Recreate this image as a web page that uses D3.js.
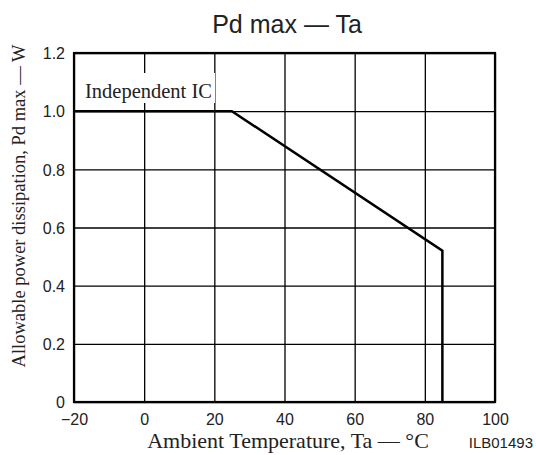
<!DOCTYPE html>
<html lang="en">

<head>
    <meta charset="UTF-8">
    <title>Pd max - Ta</title>
    <script src="https://d3js.org/d3.v7.min.js"></script>
    <style>
        body {
            margin: 0;
            background: #fff;
        }

        .tick text {
            font-family: "Liberation Sans", Arial, sans-serif;
            font-size: 16px;
            fill: #222;
        }

        .grid line {
            stroke: #000;
            stroke-width: 1.3px;
        }

        .grid .domain {
            display: none;
        }
    </style>
</head>

<body>
    <svg width="536" height="455" id="svg1"></svg>
</body>
<script>
    // chart data
    var xTicks = [-20, 0, 20, 40, 60, 80, 100];
    var yTicks = [0, 0.2, 0.4, 0.6, 0.8, 1.0, 1.2];
    var curveTa = [-20, 25, 85, 85];
    var curvePd = [1.0, 1.0, 0.52, 0];

    var svg = d3.select("#svg1"),
        plotLeft = 74,
        plotRight = 495,
        plotTop = 53,
        plotBottom = 402;

    var xScale = d3.scaleLinear().domain([-20, 100]).range([plotLeft, plotRight]),
        yScale = d3.scaleLinear().domain([0, 1.2]).range([plotBottom, plotTop]);

    // vertical grid + x labels
    var xGrid = svg.append("g")
        .attr("class", "grid")
        .attr("transform", "translate(0," + plotBottom + ")")
        .call(d3.axisBottom(xScale)
            .tickValues(xTicks)
            .tickSize(-(plotBottom - plotTop))
            .tickFormat(function (d) {
                return d < 0 ? "\u2212" + Math.abs(d) : d;
            }));
    xGrid.selectAll(".tick text").attr("y", 23).attr("dy", null);

    // horizontal grid + y labels
    var yGrid = svg.append("g")
        .attr("class", "grid")
        .attr("transform", "translate(" + plotLeft + ",0)")
        .call(d3.axisLeft(yScale)
            .tickValues(yTicks)
            .tickSize(-(plotRight - plotLeft))
            .tickFormat(function (d) {
                return d === 0 ? "0" : d3.format(".1f")(d);
            }));
    yGrid.selectAll(".tick text").attr("x", -9).attr("dy", "0.36em");

    // label with white backing
    svg.append("rect")
        .attr("x", 83)
        .attr("y", 73)
        .attr("width", 132)
        .attr("height", 30)
        .attr("fill", "#fff");

    svg.append("text")
        .attr("x", 85)
        .attr("y", 98)
        .attr("font-family", "Liberation Serif, Times New Roman, serif")
        .attr("font-size", "20.5px")
        .attr("fill", "#222")
        .text("Independent IC");

    // frame
    svg.append("rect")
        .attr("x", plotLeft)
        .attr("y", plotTop)
        .attr("width", plotRight - plotLeft)
        .attr("height", plotBottom - plotTop)
        .attr("fill", "none")
        .attr("stroke", "#000")
        .attr("stroke-width", 2.2);

    // derating curve
    var line = d3.line()
        .x(function (d, i) { return xScale(curveTa[i]); })
        .y(function (d, i) { return yScale(curvePd[i]); });

    svg.append("path")
        .datum(curveTa)
        .attr("d", line)
        .attr("fill", "none")
        .attr("stroke", "#000")
        .attr("stroke-width", 2.5)
        .attr("stroke-linejoin", "miter");

    // titles
    svg.append("text")
        .attr("x", 287)
        .attr("y", 33)
        .attr("text-anchor", "middle")
        .attr("font-family", "Liberation Sans, Arial, sans-serif")
        .attr("font-size", "25px")
        .attr("fill", "#222")
        .text("Pd max \u2014 Ta");

    svg.append("text")
        .attr("x", 288)
        .attr("y", 448)
        .attr("text-anchor", "middle")
        .attr("font-family", "Liberation Serif, Times New Roman, serif")
        .attr("font-size", "22px")
        .attr("fill", "#222")
        .text("Ambient Temperature, Ta \u2014 \u00b0C");

    svg.append("text")
        .attr("transform", "translate(25,206) rotate(-90)")
        .attr("text-anchor", "middle")
        .attr("font-family", "Liberation Serif, Times New Roman, serif")
        .attr("font-size", "18.5px")
        .attr("fill", "#222")
        .text("Allowable power dissipation, Pd max \u2014 W");

    svg.append("text")
        .attr("x", 533)
        .attr("y", 448)
        .attr("text-anchor", "end")
        .attr("font-family", "Liberation Sans, Arial, sans-serif")
        .attr("font-size", "15px")
        .attr("fill", "#222")
        .text("ILB01493");
</script>

</html>
